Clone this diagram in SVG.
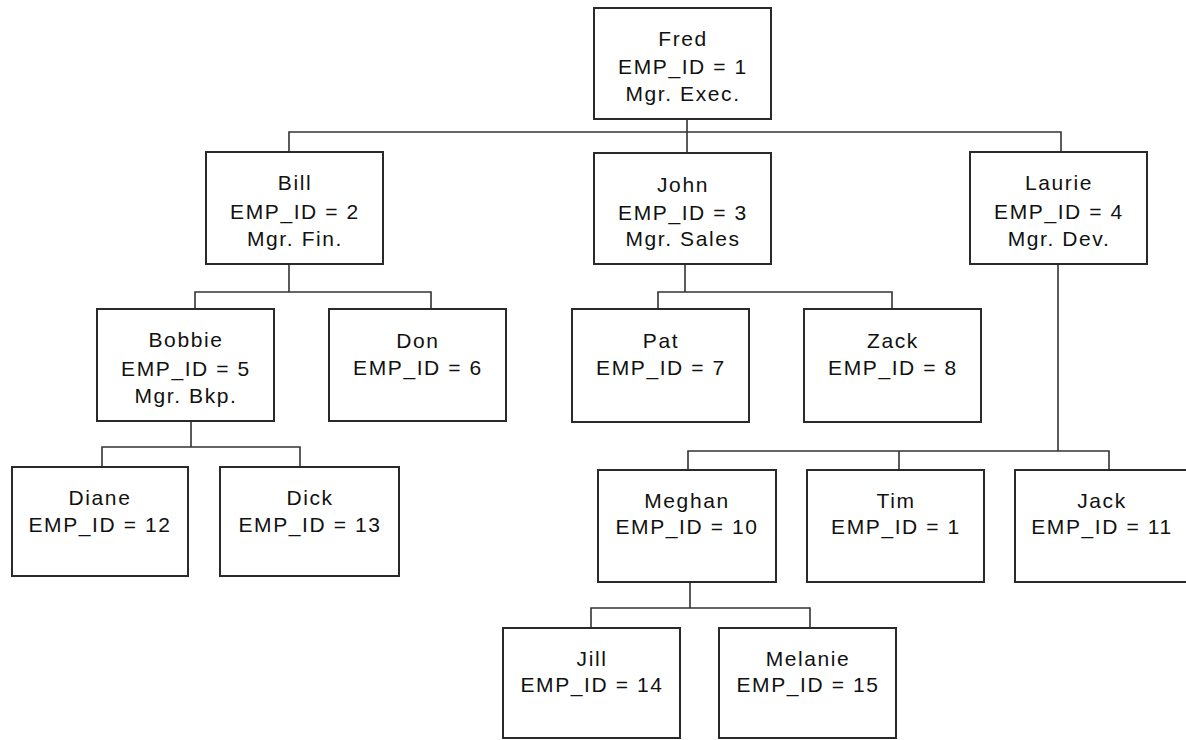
<svg xmlns="http://www.w3.org/2000/svg" width="1186" height="740" viewBox="0 0 1186 740">
<style>
.box{fill:#fff;stroke:#2a2a2a;stroke-width:2}
.c{fill:none;stroke:#333;stroke-width:1.6}
text{font-family:"Liberation Sans",Arial,sans-serif;font-size:21px;fill:#111;text-anchor:middle;letter-spacing:1.6px}
</style>
<rect width="1186" height="740" fill="#fff"/>
<g id="connectors">
<path class="c" d="M687,119V132M289,152V132H1061V152M687,132V153"/>
<path class="c" d="M289,264V292M195,309V292H431V309"/>
<path class="c" d="M685,264V292M658,309V292H892V309"/>
<path class="c" d="M1058,264V451M688,470V451H1109V470M899,451V470"/>
<path class="c" d="M191,421V447M102,467V447H300V467"/>
<path class="c" d="M690,582V608M591,628V608H810V628"/>
</g>
<g id="fred"><rect class="box" x="594" y="8" width="177" height="111"/>
<text x="683" y="46">Fred</text><text x="683" y="74">EMP_ID = 1</text><text x="683" y="101">Mgr. Exec.</text></g>
<g id="bill"><rect class="box" x="206" y="152" width="177" height="112"/>
<text x="295" y="190">Bill</text><text x="295" y="219">EMP_ID = 2</text><text x="295" y="246">Mgr. Fin.</text></g>
<g id="john"><rect class="box" x="594" y="153" width="177" height="111"/>
<text x="683" y="192">John</text><text x="683" y="220">EMP_ID = 3</text><text x="683" y="246">Mgr. Sales</text></g>
<g id="laurie"><rect class="box" x="970" y="152" width="177" height="112"/>
<text x="1059" y="190">Laurie</text><text x="1059" y="219">EMP_ID = 4</text><text x="1059" y="246">Mgr. Dev.</text></g>
<g id="bobbie"><rect class="box" x="97" y="309" width="177" height="112"/>
<text x="186" y="347">Bobbie</text><text x="186" y="376">EMP_ID = 5</text><text x="186" y="403">Mgr. Bkp.</text></g>
<g id="don"><rect class="box" x="329" y="309" width="177" height="112"/>
<text x="418" y="348">Don</text><text x="418" y="375">EMP_ID = 6</text></g>
<g id="pat"><rect class="box" x="572" y="309" width="177" height="113"/>
<text x="661" y="348">Pat</text><text x="661" y="375">EMP_ID = 7</text></g>
<g id="zack"><rect class="box" x="804" y="309" width="177" height="113"/>
<text x="893" y="348">Zack</text><text x="893" y="375">EMP_ID = 8</text></g>
<g id="diane"><rect class="box" x="12" y="467" width="176" height="109"/>
<text x="100" y="505">Diane</text><text x="100" y="532">EMP_ID = 12</text></g>
<g id="dick"><rect class="box" x="220" y="467" width="179" height="109"/>
<text x="310" y="505">Dick</text><text x="310" y="532">EMP_ID = 13</text></g>
<g id="meghan"><rect class="box" x="598" y="470" width="178" height="112"/>
<text x="687" y="508">Meghan</text><text x="687" y="534">EMP_ID = 10</text></g>
<g id="tim"><rect class="box" x="807" y="470" width="177" height="112"/>
<text x="896" y="508">Tim</text><text x="896" y="534">EMP_ID = 1</text></g>
<g id="jack"><rect class="box" x="1015" y="470" width="177" height="112"/>
<text x="1102" y="508">Jack</text><text x="1102" y="534">EMP_ID = 11</text></g>
<g id="jill"><rect class="box" x="503" y="628" width="177" height="110"/>
<text x="592" y="666">Jill</text><text x="592" y="692">EMP_ID = 14</text></g>
<g id="melanie"><rect class="box" x="719" y="628" width="177" height="110"/>
<text x="808" y="666">Melanie</text><text x="808" y="692">EMP_ID = 15</text></g>
</svg>
